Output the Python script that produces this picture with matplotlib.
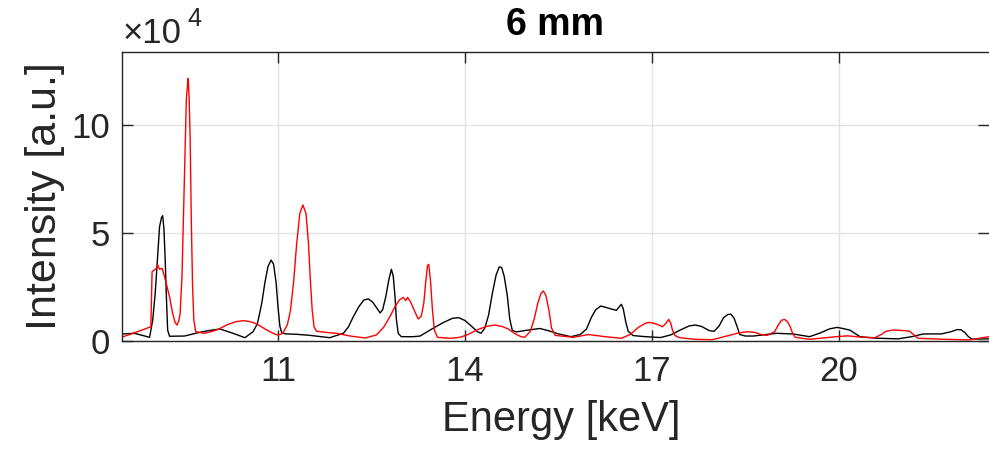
import matplotlib
matplotlib.use('Agg')
import matplotlib.pyplot as plt
import numpy as np

plt.rcParams['font.family'] = ['Liberation Sans', 'DejaVu Sans']

# spectrum at 6 mm, energy in keV and intensity in counts (black trace)
energy_k = [8.49, 8.70, 8.94, 8.99, 9.03, 9.07, 9.10, 9.13, 9.15, 9.17, 9.19, 9.21,
            9.23, 9.26, 9.50, 9.72, 9.88, 10.07, 10.28, 10.47, 10.60, 10.67, 10.74,
            10.79, 10.84, 10.89, 10.93, 10.97, 11.00, 11.03, 11.06, 11.12, 11.30, 11.51,
            11.83, 12.05, 12.13, 12.21, 12.30, 12.38, 12.45, 12.52, 12.58, 12.64, 12.68,
            12.73, 12.78, 12.82, 12.85, 12.88, 12.90, 12.93, 12.98, 13.17, 13.28, 13.49,
            13.65, 13.80, 13.90, 14.00, 14.10, 14.20, 14.26, 14.32, 14.38, 14.44, 14.50,
            14.55, 14.59, 14.63, 14.68, 14.72, 14.76, 14.82, 15.00, 15.20, 15.35, 15.50,
            15.70, 15.85, 15.95, 16.03, 16.10, 16.18, 16.26, 16.35, 16.43, 16.48, 16.51,
            16.54, 16.58, 16.62, 16.70, 16.90, 17.14, 17.30, 17.45, 17.60, 17.70, 17.80,
            17.92, 18.00, 18.08, 18.15, 18.22, 18.27, 18.32, 18.37, 18.41, 18.50, 18.63,
            19.00, 19.27, 19.53, 19.70, 19.85, 19.97, 20.08, 20.18, 20.26, 20.34, 20.60,
            20.95, 21.17, 21.35, 21.65, 21.80, 21.90, 21.96, 22.02, 22.08, 22.14, 22.41]
intensity_k = [3240, 3560, 1700, 9700, 22000, 40000, 52900, 57000, 58000, 52000, 38000, 20000,
               5000, 2200, 2300, 3850, 4780, 5560, 3560, 1530, 4300, 8000, 17450,
               27000, 34500, 37500, 35500, 27000, 16000, 7000, 3850, 3300, 3100, 2620,
               1530, 3560, 6500, 11300, 16000, 19000, 19500, 18000, 15500, 13000, 14500,
               20500, 28500, 33200, 30000, 20000, 10000, 3500, 2000, 2000, 2300, 5900,
               8500, 10500, 10800, 9500, 7000, 4300, 3600, 6000, 12000, 22000, 30500,
               34300, 34000, 30000, 21000, 10000, 5000, 4200, 5000, 5800, 4700, 3300,
               2000, 3000, 5500, 11000, 14500, 16200, 15600, 14800, 14200, 16000, 17000,
               15000, 9000, 4500, 2500, 2000, 1600, 2800, 5000, 7000, 7400, 6700,
               4800, 4500, 7000, 10800, 12300, 12400, 10500, 6500, 3000, 2300, 2300,
               3560, 3240, 2000, 3700, 5600, 6300, 5700, 5000, 3500, 2000, 1300,
               1000, 2000, 3240, 3300, 4300, 5300, 5200, 4000, 2000, 850, 1000]

# red trace
energy_r = [8.49, 8.70, 8.96, 8.98, 9.05, 9.07, 9.10, 9.14, 9.18, 9.26, 9.31, 9.35,
            9.38, 9.41, 9.43, 9.46, 9.49, 9.51, 9.53, 9.55, 9.56, 9.575, 9.59, 9.61,
            9.63, 9.65, 9.68, 9.82, 9.95, 10.04, 10.20, 10.33, 10.44, 10.55, 10.65,
            10.75, 10.85, 10.95, 11.00, 11.05, 11.09, 11.15, 11.20, 11.25, 11.30, 11.35,
            11.40, 11.45, 11.49, 11.52, 11.55, 11.58, 11.62, 11.80, 11.94, 12.16, 12.40,
            12.58, 12.70, 12.80, 12.88, 12.95, 13.01, 13.05, 13.08, 13.13, 13.19, 13.25,
            13.30, 13.34, 13.37, 13.40, 13.42, 13.45, 13.48, 13.51, 13.56, 13.76, 13.92,
            14.05, 14.19, 14.35, 14.48, 14.60, 14.70, 14.80, 14.90, 14.96, 15.05, 15.11,
            15.17, 15.22, 15.26, 15.30, 15.35, 15.39, 15.45, 15.74, 15.98, 16.25, 16.51,
            16.65, 16.78, 16.90, 16.97, 17.08, 17.17, 17.22, 17.27, 17.30, 17.33, 17.37,
            17.45, 17.69, 17.97, 18.20, 18.40, 18.54, 18.65, 18.75, 18.85, 18.97, 19.02,
            19.08, 19.13, 19.18, 19.22, 19.26, 19.30, 19.53, 19.96, 20.14, 20.38, 20.58,
            20.68, 20.76, 20.87, 21.00, 21.13, 21.20, 21.27, 21.70, 22.09, 22.41]
intensity_r = [1700, 3850, 6600, 32100, 33650, 35200, 33200, 33650, 29800, 20500, 12800, 8500,
               7400, 9500, 12800, 30000, 65000, 88000, 112000, 119000, 121600, 112000, 95000, 55000,
               25000, 9700, 4300, 3560, 4500, 5400, 7700, 9000, 9400, 9000, 8000,
               6300, 4600, 3200, 2800, 3200, 4300, 7500, 14000, 27000, 45000, 59000,
               63000, 59000, 45000, 28000, 14000, 6500, 4500, 3900, 3560, 2300, 1400,
               2800, 6500, 11500, 16000, 19000, 20200, 18700, 20200, 18000, 14000, 10200,
               11500, 17500, 27000, 35000, 35500, 27000, 14000, 5000, 1700, 1250, 1700,
               3000, 5100, 6800, 7400, 6700, 5500, 3400, 2000, 1700, 4500, 10000,
               17500, 22000, 23150, 21000, 14000, 6000, 2600, 1700, 3000, 2000, 1250,
               3000, 6200, 8300, 8600, 7800, 6600, 8000, 10000, 8500, 5100, 2500,
               1500, 790, 600, 2300, 3800, 4300, 4000, 3000, 2600, 4300, 7000,
               9600, 10000, 8800, 6500, 3500, 1700, 790, 2000, 2400, 1700, 1530,
               3000, 4500, 5100, 4900, 4600, 3000, 1250, 790, 500, 2000]

xticks = [11, 14, 17, 20]
yticks = [0, 5e4, 10e4]
ytick_labels = ['0', '5', '10']

fig = plt.figure(figsize=(9.89, 4.51), dpi=100)
ax = fig.add_axes([0.1229, 0.2439, 0.8771, 0.6408])

ax.plot(energy_k, intensity_k, color='k', lw=1.0)
ax.plot(energy_r, intensity_r, color='r', lw=1.0)

ax.set_xlim(8.49, 22.41)
ax.set_ylim(0, 133800)
ax.set_xticks(xticks)
ax.set_yticks(yticks)
ax.set_yticklabels(ytick_labels)

ax.grid(True, color='#e2e2e2', lw=1.0)
ax.set_axisbelow(True)
ax.tick_params(direction='in', length=8, width=1.0, color='#262626',
               labelsize=25, labelcolor='#262626', top=True, right=True)
ax.tick_params(axis='x', pad=10)
ax.tick_params(axis='y', pad=8)
for side in ['left', 'bottom', 'top']:
    ax.spines[side].set_color('#262626')
    ax.spines[side].set_linewidth(1.0)
ax.spines['right'].set_visible(False)

ax.set_title('6 mm', fontsize=27, fontweight='bold', color='k', pad=12)
ax.set_xlabel('Energy [keV]', fontsize=30, color='#262626')
ax.set_ylabel('Intensity [a.u.]', fontsize=31, color='#262626')
ax.xaxis.set_label_coords(0.507, -0.204)
ax.yaxis.set_label_coords(-0.065, 0.5)

# exponent marker above the y axis
fig.text(123 / 989, 1 - 43 / 451, '×10', fontsize=25, color='#262626', va='baseline')
fig.text(187 / 989, 1 - 26 / 451, '4', fontsize=18, color='#262626', va='baseline')

fig.savefig('out.png', dpi=100)
